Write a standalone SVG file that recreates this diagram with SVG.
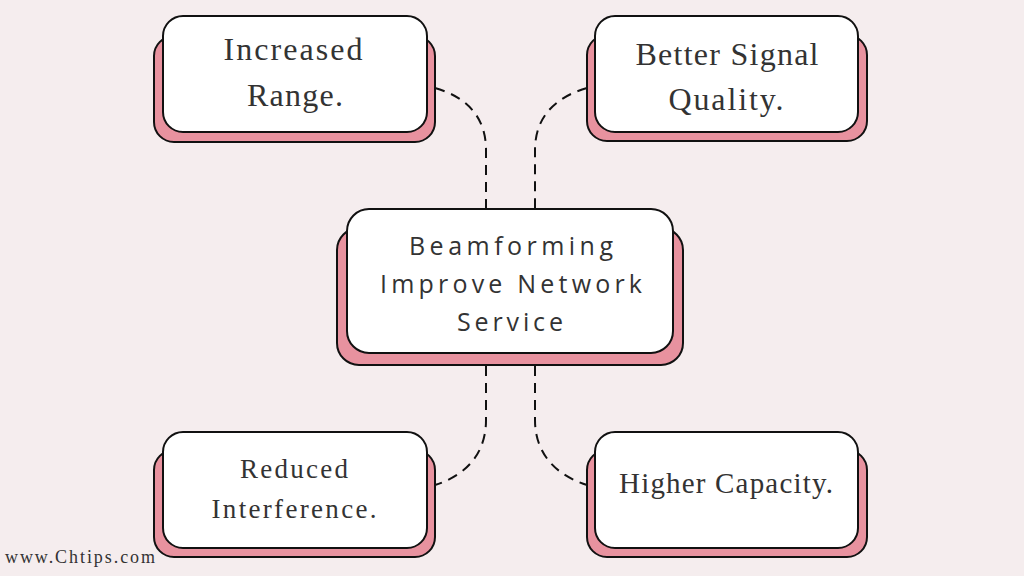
<svg xmlns="http://www.w3.org/2000/svg" width="1024" height="576" viewBox="0 0 1024 576">
  <style>
    .shadow { fill: #e8929f; stroke: #111; stroke-width: 2; }
    .card { fill: #ffffff; stroke: #111; stroke-width: 2; }
    .lbl { font-family: "Liberation Serif", "DejaVu Serif", serif; fill: #333333; text-anchor: middle; }
    .ctr { font-family: "Open Sans", "Noto Sans", sans-serif; fill: #333333; text-anchor: middle; font-size: 25px; }
    .conn { fill: none; stroke: #111; stroke-width: 2; stroke-dasharray: 10 7; }
  </style>
  <rect width="1024" height="576" fill="#f5edee"/>
  <g id="connectors">
    <path class="conn" d="M435,88 C470,98 486,120 486,150 L486,208"/>
    <path class="conn" d="M587,88 C552,98 535,120 535,150 L535,208"/>
    <path class="conn" d="M486,366 L486,420 C486,450 470,474 435,485"/>
    <path class="conn" d="M535,366 L535,420 C535,450 552,474 587,485"/>
  </g>
  <g id="node-increased-range">
    <rect class="shadow" x="154" y="36" width="281" height="106" rx="20"/>
    <rect class="card" x="163" y="16" width="264" height="116" rx="20"/>
    <text class="lbl" font-size="32" x="293" y="60" textLength="139" lengthAdjust="spacing">Increased</text>
    <text class="lbl" font-size="32" x="295" y="106" textLength="96" lengthAdjust="spacing">Range.</text>
  </g>
  <g id="node-better-signal">
    <rect class="shadow" x="587" y="35" width="280" height="106" rx="20"/>
    <rect class="card" x="595" y="16" width="263" height="116" rx="20"/>
    <text class="lbl" font-size="32" x="727" y="65" textLength="183" lengthAdjust="spacing">Better Signal</text>
    <text class="lbl" font-size="32" x="726" y="110" textLength="115" lengthAdjust="spacing">Quality.</text>
  </g>
  <g id="node-center">
    <rect class="shadow" x="337" y="228" width="346" height="137" rx="22"/>
    <rect class="card" x="347" y="209" width="326" height="144" rx="22"/>
    <text class="ctr" x="511" y="255" textLength="204" lengthAdjust="spacing">Beamforming</text>
    <text class="ctr" x="511" y="293" textLength="262" lengthAdjust="spacing">Improve Network</text>
    <text class="ctr" x="510" y="331" textLength="106" lengthAdjust="spacing">Service</text>
  </g>
  <g id="node-reduced-interference">
    <rect class="shadow" x="154" y="450" width="281" height="107" rx="20"/>
    <rect class="card" x="163" y="432" width="264" height="116" rx="20"/>
    <text class="lbl" font-size="27" x="294" y="478" textLength="108" lengthAdjust="spacing">Reduced</text>
    <text class="lbl" font-size="27" x="294" y="518" textLength="165" lengthAdjust="spacing">Interference.</text>
  </g>
  <g id="node-higher-capacity">
    <rect class="shadow" x="587" y="450" width="280" height="107" rx="20"/>
    <rect class="card" x="595" y="432" width="263" height="116" rx="20"/>
    <text class="lbl" font-size="29" x="726" y="493" textLength="214" lengthAdjust="spacing">Higher Capacity.</text>
  </g>
  <text x="5" y="563" font-family="Liberation Serif, DejaVu Serif, serif" font-size="18" fill="#333333" textLength="150" lengthAdjust="spacing">www.Chtips.com</text>
</svg>
